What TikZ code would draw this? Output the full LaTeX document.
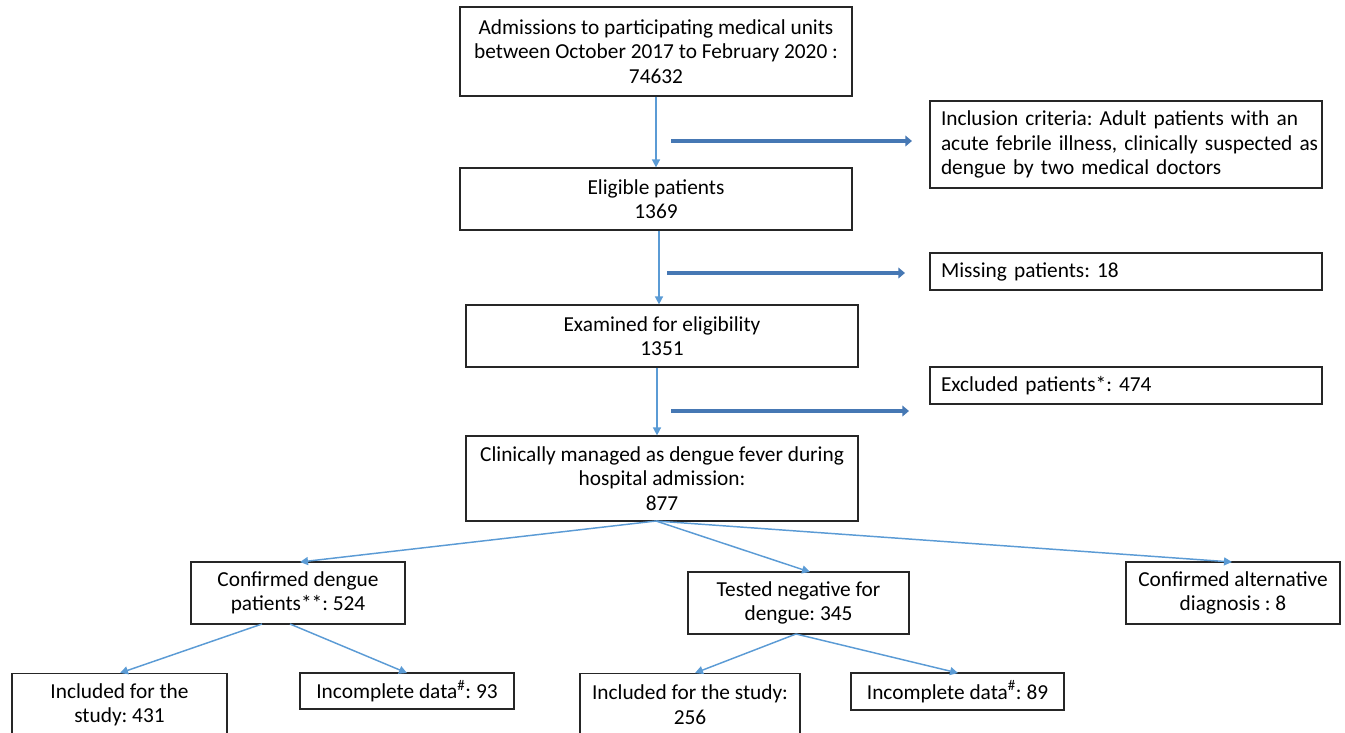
\documentclass[tikz,border=0pt]{standalone}
\usepackage{fontspec}
\setmainfont{Carlito}
\frenchspacing
\usetikzlibrary{arrows.meta}
\begin{document}
\begin{tikzpicture}[x=0.75pt,y=-0.75pt,
  box/.style={draw=black!85, line width=0.9pt, align=center, inner sep=0pt, font=\fontsize{16}{18.2}\selectfont},
  lbox/.style={box, align=left, inner xsep=11*0.75pt, text width=370*0.75pt},
  thin/.style={draw={rgb,255:red,91;green,155;blue,213}, line width=1.1pt, -{Triangle[length=6pt,width=6pt]}},
  thick/.style={draw={rgb,255:red,70;green,120;blue,180}, line width=3.2pt, -{Triangle[length=5pt,width=8pt]}}]
\useasboundingbox (0,0) rectangle (1345,732);
\clip (0,0) rectangle (1345,732);
% boxes
\node[box, minimum width=392*0.75pt, minimum height=89*0.75pt] (adm) at (656,51.5) {Admissions to participating medical units\\between October 2017 to February 2020 :\\74632};
\node[lbox, minimum height=87*0.75pt] (inc) at (1126,144.5) {Inclusion criteria: Adult patients with an\\\mbox{acute febrile illness, clinically suspected as}\\dengue by two medical doctors};
\node[box, minimum width=392*0.75pt, minimum height=62*0.75pt] (eli) at (656,199) {Eligible patients\\1369};
\node[lbox, minimum height=37*0.75pt] (mis) at (1126,271.5) {Missing patients: 18};
\node[box, minimum width=392*0.75pt, minimum height=62*0.75pt] (exa) at (662,336) {Examined for eligibility\\1351};
\node[lbox, minimum height=37*0.75pt] (exc) at (1126,385.5) {Excluded patients*: 474};
\node[box, minimum width=392*0.75pt, minimum height=85*0.75pt] (cli) at (662,478.5) {Clinically managed as dengue fever during\\hospital admission:\\877};
\node[box, minimum width=214*0.75pt, minimum height=62*0.75pt] (con) at (298,593) {Confirmed dengue\\patients**: 524};
\node[box, minimum width=221*0.75pt, minimum height=62*0.75pt] (neg) at (798.5,603) {Tested negative for\\dengue: 345};
\node[box, minimum width=214*0.75pt, minimum height=62*0.75pt] (alt) at (1233,593) {Confirmed alternative\\diagnosis : 8};
\node[box, minimum width=215*0.75pt, minimum height=62*0.75pt, anchor=north] (inA) at (119.5,673) {Included for the\\study: 431};
\node[box, minimum width=214*0.75pt, minimum height=36*0.75pt] (icA) at (407,691) {Incomplete data\textsuperscript{\#}: 93};
\node[box, minimum width=220*0.75pt, minimum height=62*0.75pt, anchor=north] (inB) at (690,673) {Included for the study:\\256};
\node[box, minimum width=213*0.75pt, minimum height=37*0.75pt] (icB) at (957.5,691.5) {Incomplete data\textsuperscript{\#}: 89};
% vertical arrows
\draw[thin] (adm.south) -- (adm.south |- eli.north);
\draw[thin] ([xshift=3*0.75pt]eli.south) -- ([xshift=3*0.75pt]eli.south |- exa.north);
\draw[thin] ([xshift=-5*0.75pt]exa.south) -- ([xshift=-5*0.75pt]exa.south |- cli.north);
% side arrows
\coordinate (s1) at (671,141); \coordinate (e1) at (912,141);
\coordinate (s2) at (667,273); \coordinate (e2) at (905,273);
\coordinate (s3) at (671,411); \coordinate (e3) at (909,411);
\draw[thick] (s1) -- (e1);
\draw[thick] (s2) -- (e2);
\draw[thick] (s3) -- (e3);
% branches
\coordinate (c0) at (656,521);
\draw[thin] (c0) -- (300,562);
\draw[thin] (c0) -- (810,572);
\draw[thin] (c0) -- (1232,562);
\coordinate (d0) at (262,624);
\coordinate (d1) at (290,624);
\draw[thin] (d0) -- (120,673);
\draw[thin] (d1) -- (407,673);
\coordinate (f0) at (796,634);
\draw[thin] (f0) -- (695,673);
\draw[thin] (f0) -- (958,673);
\end{tikzpicture}
\end{document}
